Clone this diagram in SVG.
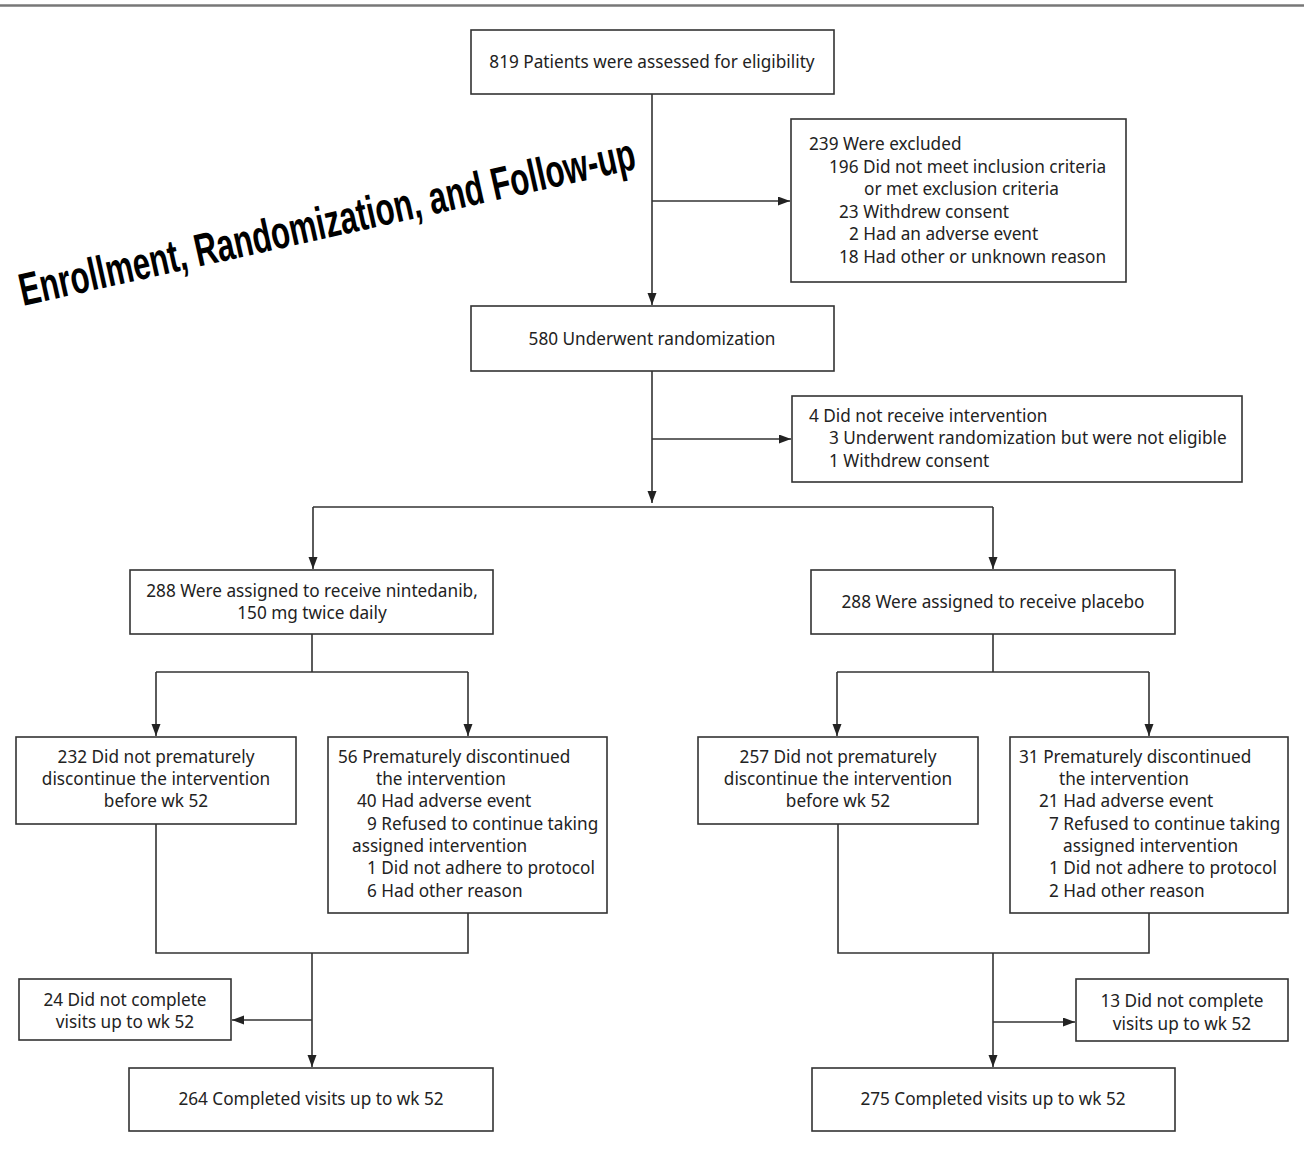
<svg xmlns="http://www.w3.org/2000/svg" width="1304" height="1152" viewBox="0 0 1304 1152">
<style>
.box{fill:#fff;stroke:#333;stroke-width:1.6}
.t{font-family:"Noto Sans","Liberation Sans",sans-serif;font-size:17.2px;fill:#222}
.c{text-anchor:middle}
.ln{fill:none;stroke:#333;stroke-width:1.6}
.title{font-family:"Liberation Sans Narrow","Liberation Sans",sans-serif;font-weight:bold;font-size:46px;fill:#000}
</style>
<defs>
<marker id="ar" markerUnits="userSpaceOnUse" markerWidth="12" markerHeight="10" refX="12" refY="4.5" orient="auto">
<path d="M0,0 L12,4.5 L0,9 z" fill="#222"/>
</marker>
</defs>
<rect width="1304" height="1152" fill="#fff"/>
<line x1="0" y1="5.5" x2="1304" y2="5.5" stroke="#777" stroke-width="2.5"/>
<text class="title" transform="translate(23,306) rotate(-12.6)" textLength="630" lengthAdjust="spacingAndGlyphs">Enrollment, Randomization, and Follow-up</text>

<g id="connectors">
<path class="ln" d="M652,94 V305" marker-end="url(#ar)"/>
<path class="ln" d="M652,201 H790" marker-end="url(#ar)"/>
<path class="ln" d="M652,371 V503"  marker-end="url(#ar)"/>
<path class="ln" d="M652,439 H791" marker-end="url(#ar)"/>
<path class="ln" d="M313,507 H993"/>
<path class="ln" d="M313,507 V569" marker-end="url(#ar)"/>
<path class="ln" d="M993,507 V569" marker-end="url(#ar)"/>
<path class="ln" d="M312,634 V672 M156,672 H468"/>
<path class="ln" d="M156,672 V736" marker-end="url(#ar)"/>
<path class="ln" d="M468,672 V736" marker-end="url(#ar)"/>
<path class="ln" d="M993,634 V672 M837,672 H1149"/>
<path class="ln" d="M837,672 V736" marker-end="url(#ar)"/>
<path class="ln" d="M1149,672 V736" marker-end="url(#ar)"/>
<path class="ln" d="M156,824 V953 H468 V913"/>
<path class="ln" d="M312,953 V1067" marker-end="url(#ar)"/>
<path class="ln" d="M312,1020 H232" marker-end="url(#ar)"/>
<path class="ln" d="M838,824 V953 H1149 V913"/>
<path class="ln" d="M993,953 V1067" marker-end="url(#ar)"/>
<path class="ln" d="M993,1022 H1075" marker-end="url(#ar)"/>
</g>

<g id="n_assessed">
<rect class="box" x="471" y="30" width="363" height="64"/>
<text class="t c" x="652" y="68">819 Patients were assessed for eligibility</text>
</g>
<g id="n_excluded">
<rect class="box" x="791" y="119" width="335" height="163"/>
<text class="t" x="809" y="150">239 Were excluded</text>
<text class="t" x="829" y="173">196 Did not meet inclusion criteria</text>
<text class="t" x="864" y="195">or met exclusion criteria</text>
<text class="t" x="839" y="218">23 Withdrew consent</text>
<text class="t" x="849" y="240">2 Had an adverse event</text>
<text class="t" x="839" y="263">18 Had other or unknown reason</text>
</g>
<g id="n_random">
<rect class="box" x="471" y="306" width="363" height="65"/>
<text class="t c" x="652" y="345">580 Underwent randomization</text>
</g>
<g id="n_notreceive">
<rect class="box" x="792" y="396" width="450" height="86"/>
<text class="t" x="809" y="422">4 Did not receive intervention</text>
<text class="t" x="829" y="444">3 Underwent randomization but were not eligible</text>
<text class="t" x="829" y="467">1 Withdrew consent</text>
</g>
<g id="n_nintedanib">
<rect class="box" x="130" y="570" width="363" height="64"/>
<text class="t c" x="312" y="597">288 Were assigned to receive nintedanib,</text>
<text class="t c" x="312" y="619">150 mg twice daily</text>
</g>
<g id="n_placebo">
<rect class="box" x="811" y="570" width="364" height="64"/>
<text class="t c" x="993" y="608">288 Were assigned to receive placebo</text>
</g>
<g id="n_n232">
<rect class="box" x="16" y="737" width="280" height="87"/>
<text class="t c" x="156" y="763">232 Did not prematurely</text>
<text class="t c" x="156" y="785">discontinue the intervention</text>
<text class="t c" x="156" y="807">before wk 52</text>
</g>
<g id="n_n56">
<rect class="box" x="328" y="737" width="279" height="176"/>
<text class="t" x="338" y="763">56 Prematurely discontinued</text>
<text class="t" x="376" y="785">the intervention</text>
<text class="t" x="357" y="807">40 Had adverse event</text>
<text class="t" x="367" y="830">9 Refused to continue taking</text>
<text class="t" x="352" y="852">assigned intervention</text>
<text class="t" x="367" y="874">1 Did not adhere to protocol</text>
<text class="t" x="367" y="897">6 Had other reason</text>
</g>
<g id="n_p257">
<rect class="box" x="698" y="737" width="280" height="87"/>
<text class="t c" x="838" y="763">257 Did not prematurely</text>
<text class="t c" x="838" y="785">discontinue the intervention</text>
<text class="t c" x="838" y="807">before wk 52</text>
</g>
<g id="n_p31">
<rect class="box" x="1010" y="737" width="278" height="176"/>
<text class="t" x="1019" y="763">31 Prematurely discontinued</text>
<text class="t" x="1059" y="785">the intervention</text>
<text class="t" x="1039" y="807">21 Had adverse event</text>
<text class="t" x="1049" y="830">7 Refused to continue taking</text>
<text class="t" x="1063" y="852">assigned intervention</text>
<text class="t" x="1049" y="874">1 Did not adhere to protocol</text>
<text class="t" x="1049" y="897">2 Had other reason</text>
</g>
<g id="n_n24">
<rect class="box" x="19" y="979" width="212" height="61"/>
<text class="t c" x="125" y="1006">24 Did not complete</text>
<text class="t c" x="125" y="1028">visits up to wk 52</text>
</g>
<g id="n_n264">
<rect class="box" x="129" y="1068" width="364" height="63"/>
<text class="t c" x="311" y="1105">264 Completed visits up to wk 52</text>
</g>
<g id="n_p13">
<rect class="box" x="1076" y="979" width="212" height="62"/>
<text class="t c" x="1182" y="1007">13 Did not complete</text>
<text class="t c" x="1182" y="1030">visits up to wk 52</text>
</g>
<g id="n_p275">
<rect class="box" x="812" y="1068" width="363" height="63"/>
<text class="t c" x="993" y="1105">275 Completed visits up to wk 52</text>
</g>
</svg>
